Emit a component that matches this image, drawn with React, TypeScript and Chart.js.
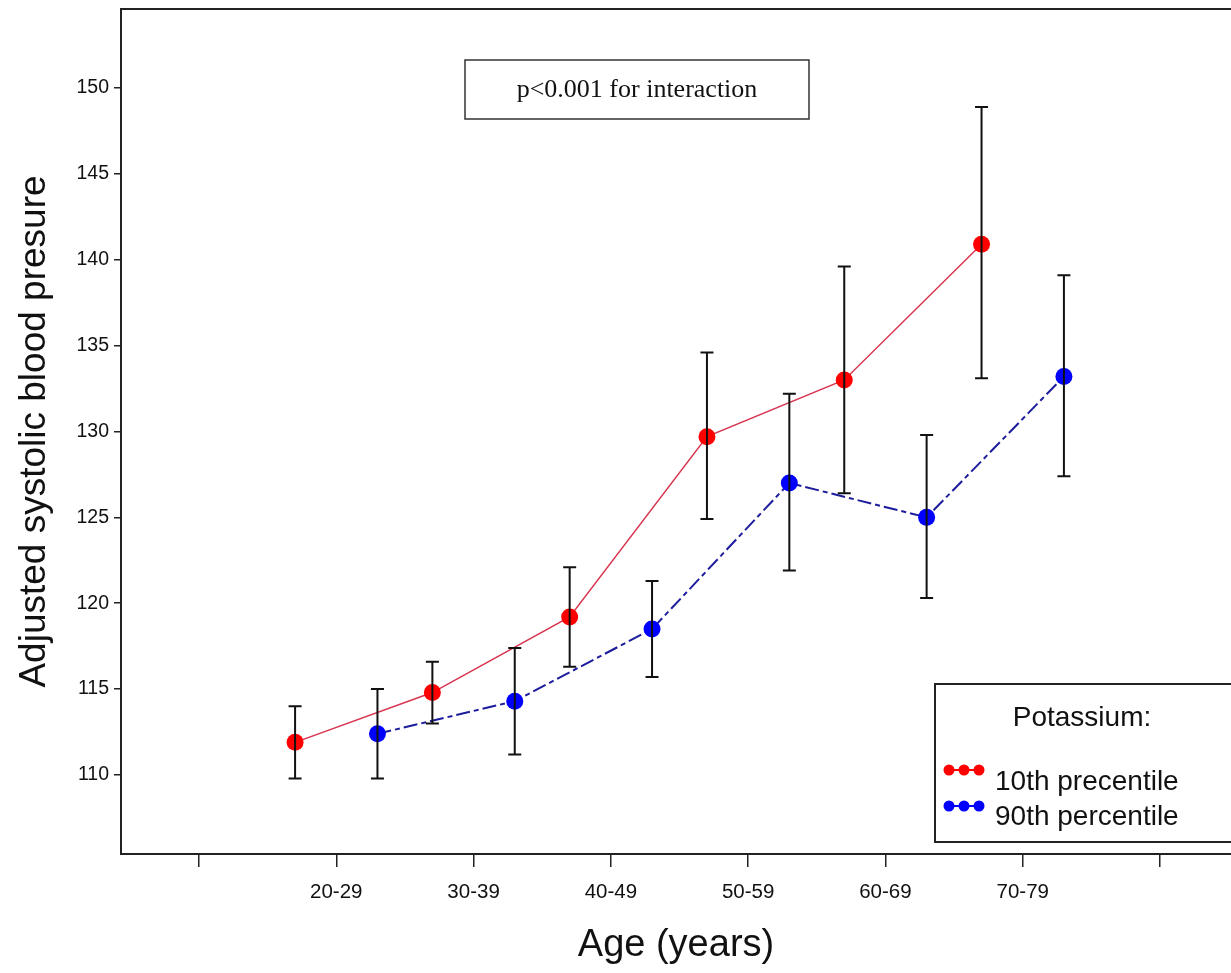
import React, { useEffect, useRef } from "react";
import { Chart, registerables } from "chart.js";

Chart.register(...registerables);

// ---- data ----
const ageGroups = ["20-29", "30-39", "40-49", "50-59", "60-69", "70-79"];
const xTickValues = [0, 1, 2, 3, 4, 5, 6, 7];
const xTickLabels = ["", "20-29", "30-39", "40-49", "50-59", "60-69", "70-79", ""];
const yTickValues = [110, 115, 120, 125, 130, 135, 140, 145, 150];

// x positions of the points (group centre -/+ offset)
const lowKX = [0.7, 1.7, 2.7, 3.7, 4.7, 5.7];
const highKX = [1.3, 2.3, 3.3, 4.3, 5.3, 6.3];

// 10th percentile potassium
const lowKMean = [111.9, 114.8, 119.2, 129.7, 133.0, 140.9];
const lowKLower = [109.8, 113.0, 116.3, 124.9, 126.4, 133.1];
const lowKUpper = [114.0, 116.6, 122.1, 134.6, 139.6, 148.9];

// 90th percentile potassium
const highKMean = [112.4, 114.3, 118.5, 127.0, 125.0, 133.2];
const highKLower = [109.8, 111.2, 115.7, 121.9, 120.3, 127.4];
const highKUpper = [115.0, 117.4, 121.3, 132.2, 129.8, 139.1];

const SANS = "'Liberation Sans', Arial, sans-serif";
const SERIF = "'Liberation Serif', 'Times New Roman', serif";

const errorBarPlugin = {
  id: "errorBars",
  afterDatasetsDraw(chart: any) {
    const { ctx } = chart;
    const xs = chart.scales.x;
    const ys = chart.scales.y;
    const groups = [
      { x: lowKX, lo: lowKLower, hi: lowKUpper },
      { x: highKX, lo: highKLower, hi: highKUpper },
    ];
    ctx.save();
    ctx.strokeStyle = "#111";
    ctx.lineWidth = 2;
    groups.forEach((g) => {
      g.x.forEach((xv, i) => {
        const px = xs.getPixelForValue(xv);
        const pLo = ys.getPixelForValue(g.lo[i]);
        const pHi = ys.getPixelForValue(g.hi[i]);
        ctx.beginPath();
        ctx.moveTo(px, pLo);
        ctx.lineTo(px, pHi);
        ctx.moveTo(px - 6.5, pLo);
        ctx.lineTo(px + 6.5, pLo);
        ctx.moveTo(px - 6.5, pHi);
        ctx.lineTo(px + 6.5, pHi);
        ctx.stroke();
      });
    });
    ctx.restore();
  },
};

const decorPlugin = {
  id: "decor",
  afterDraw(chart: any) {
    const { ctx, chartArea: a } = chart;
    ctx.save();
    // top frame line
    ctx.strokeStyle = "#222";
    ctx.lineWidth = 2;
    ctx.beginPath();
    ctx.moveTo(a.left, a.top);
    ctx.lineTo(a.right + 5, a.top);
    ctx.stroke();

    // p-value box
    ctx.lineWidth = 1.5;
    ctx.strokeStyle = "#333";
    ctx.strokeRect(465, 60, 344, 59);
    ctx.fillStyle = "#111";
    ctx.font = `26px ${SERIF}`;
    ctx.textAlign = "center";
    ctx.textBaseline = "alphabetic";
    ctx.fillText("p<0.001 for interaction", 637, 97);

    // legend box
    ctx.strokeStyle = "#222";
    ctx.lineWidth = 2;
    ctx.strokeRect(935, 684, 320, 158);
    ctx.fillStyle = "#111";
    ctx.font = `28px ${SANS}`;
    ctx.textAlign = "center";
    ctx.fillText("Potassium:", 1082, 726);

    const items = [
      { label: "10th precentile", color: "#ff0000", y: 770, base: 790 },
      { label: "90th percentile", color: "#0000ff", y: 806, base: 825 },
    ];
    items.forEach((it) => {
      ctx.strokeStyle = it.color;
      ctx.lineWidth = 2;
      ctx.beginPath();
      ctx.moveTo(947, it.y);
      ctx.lineTo(980, it.y);
      ctx.stroke();
      ctx.fillStyle = it.color;
      [949, 964, 979].forEach((cx) => {
        ctx.beginPath();
        ctx.arc(cx, it.y, 5.5, 0, Math.PI * 2);
        ctx.fill();
      });
      ctx.fillStyle = "#111";
      ctx.textAlign = "left";
      ctx.fillText(it.label, 995, it.base);
    });
    ctx.restore();
  },
};

export default function App() {
  const ref = useRef<HTMLCanvasElement | null>(null);

  useEffect(() => {
    if (!ref.current) return;
    const chart = new Chart(ref.current, {
      type: "line",
      data: {
        datasets: [
          {
            label: "10th precentile",
            data: lowKX.map((x, i) => ({ x, y: lowKMean[i] })),
            borderColor: "#d8344f",
            borderWidth: 1.5,
            pointBackgroundColor: "#ff0000",
            pointBorderColor: "#ff0000",
            pointRadius: 8.5,
            pointBorderWidth: 0,
            tension: 0,
          },
          {
            label: "90th percentile",
            data: highKX.map((x, i) => ({ x, y: highKMean[i] })),
            borderColor: "#1c1c9c",
            borderWidth: 2,
            borderDash: [14, 4, 5, 4],
            pointBackgroundColor: "#0000ff",
            pointBorderColor: "#0000ff",
            pointRadius: 8.5,
            pointBorderWidth: 0,
            tension: 0,
          },
        ],
      },
      options: {
        responsive: false,
        animation: false,
        layout: { autoPadding: false, padding: { top: 9, left: 0, right: 0, bottom: 0 } },
        plugins: {
          legend: { display: false },
          tooltip: { enabled: false },
        },
        scales: {
          x: {
            type: "linear",
            min: -0.568,
            max: 7.517,
            afterBuildTicks: (s: any) => {
              s.ticks = xTickValues.map((v) => ({ value: v }));
            },
            afterFit: (s: any) => {
              s.height = 119;
              s.paddingLeft = 0;
              s.paddingRight = 0;
            },
            ticks: {
              autoSkip: false,
              maxRotation: 0,
              padding: 13,
              color: "#111",
              font: { family: SANS, size: 20.5 },
              callback: (v: any) => xTickLabels[xTickValues.indexOf(Number(v))] ?? "",
            },
            grid: {
              drawOnChartArea: false,
              drawTicks: true,
              tickLength: 13,
              color: "#222",
              lineWidth: 1.5,
            },
            border: { display: true, color: "#222", width: 2 },
            title: {
              display: true,
              text: "Age (years)",
              color: "#111",
              font: { family: SANS, size: 38 },
              padding: { top: 0, bottom: 5 },
            },
          },
          y: {
            type: "linear",
            min: 105.4,
            max: 154.6,
            afterBuildTicks: (s: any) => {
              s.ticks = yTickValues.map((v) => ({ value: v }));
            },
            afterFit: (s: any) => {
              s.width = 121;
              s.paddingTop = 0;
              s.paddingBottom = 0;
            },
            ticks: {
              padding: 5,
              color: "#111",
              font: { family: SANS, size: 19.5 },
            },
            grid: {
              drawOnChartArea: false,
              drawTicks: true,
              tickLength: 7,
              color: "#222",
              lineWidth: 1.5,
            },
            border: { display: true, color: "#222", width: 2 },
            title: {
              display: true,
              text: "Adjusted systolic blood presure",
              color: "#111",
              font: { family: SANS, size: 37 },
              padding: { top: 13, bottom: 0 },
            },
          },
        },
      },
      plugins: [errorBarPlugin, decorPlugin],
    });
    return () => chart.destroy();
  }, []);

  return (
    <div style={{ position: "absolute", left: 0, top: 0, width: 1231, height: 973, background: "#fff" }}>
      <canvas ref={ref} width={1231} height={973} style={{ width: 1231, height: 973, display: "block" }} />
    </div>
  );
}
